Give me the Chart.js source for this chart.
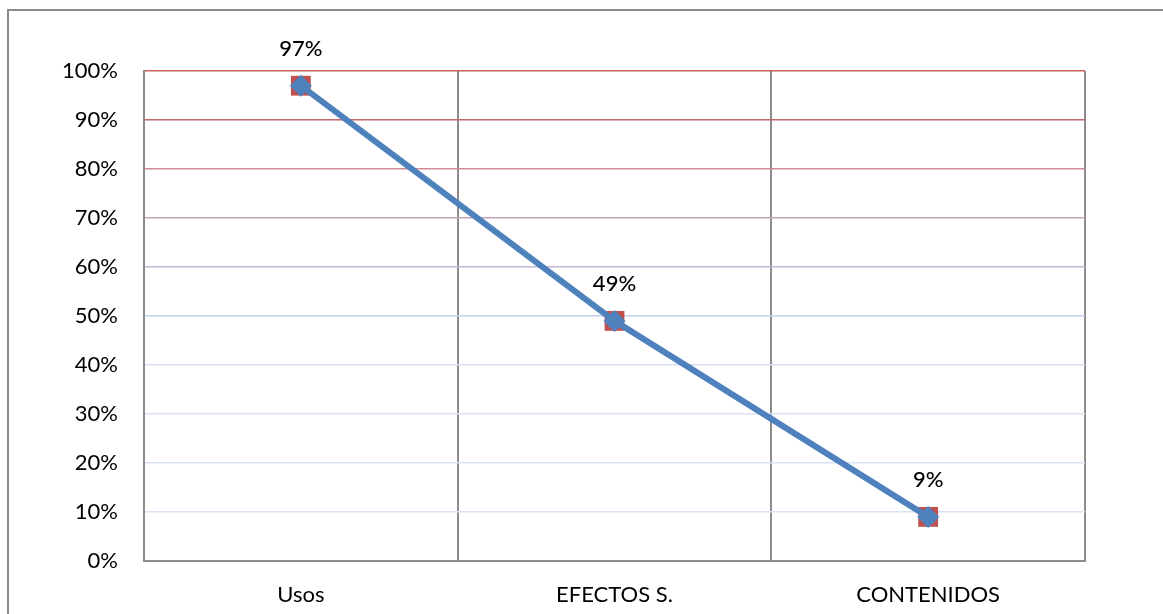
<!DOCTYPE html>
<html>
<head>
<meta charset="utf-8">
<script src="https://cdn.jsdelivr.net/npm/chart.js@4"></script>
<style>
  body { margin: 0; background: #fff; }
  #wrap { position: relative; width: 1163px; height: 614px; overflow: hidden; }
  #frame { position: absolute; left: 7px; top: 9px; width: 1200px; height: 700px; border: 2px solid #8c8c8c; }
  #chart { position: absolute; left: 0; top: 0; }
</style>
</head>
<body>
<div id="wrap">
  <div id="frame"></div>
  <canvas id="chart" width="1163" height="614"></canvas>
</div>
<script>
const categories = ['Usos', 'EFECTOS S.', 'CONTENIDOS'];
const values = [97, 49, 9];
const yTicks = [0, 10, 20, 30, 40, 50, 60, 70, 80, 90, 100];
// gridline colour per tick, fading from red at the top to pale blue
const gridColors = {
    0: '#8c8c8c', 10: '#d9e2f3', 20: '#d9e2f3', 30: '#d9e2f3', 40: '#d6dff2',
    50: '#c3d0ec', 60: '#bfbbd6', 70: '#c5a5b4', 80: '#cd8c95', 90: '#c4666a', 100: '#cf5f5f'
};

const FONT = 'Lato, "Open Sans", sans-serif';

// writes the percentage above every point of the line
const valueLabels = {
    id: 'valueLabels',
    afterDatasetsDraw(chart) {
        const meta = chart.getDatasetMeta(0);
        const ctx = chart.ctx;
        ctx.save();
        ctx.font = '500 22px ' + FONT;
        ctx.fillStyle = '#000';
        ctx.textAlign = 'center';
        ctx.textBaseline = 'middle';
        meta.data.forEach((pt, i) => {
            ctx.fillText(values[i] + '%', pt.x, pt.y - 37);
        });
        ctx.restore();
    }
};

new Chart(document.getElementById('chart'), {
    type: 'line',
    data: {
        labels: categories,
        datasets: [
            {
                data: values,
                borderColor: '#4f81bd',
                borderWidth: 6,
                backgroundColor: '#4f81bd',
                pointStyle: 'rectRot',
                pointRadius: 11,
                pointBorderWidth: 0,
                order: 0
            },
            {
                data: values,
                showLine: false,
                pointStyle: 'rect',
                pointRadius: 14,
                backgroundColor: '#c0504d',
                borderColor: '#c0504d',
                pointBorderWidth: 0,
                order: 1
            }
        ]
    },
    options: {
        responsive: false,
        animation: false,
        layout: { padding: { top: 71, right: 78, left: 0, bottom: 0 } },
        plugins: {
            legend: { display: false },
            tooltip: { enabled: false }
        },
        scales: {
            x: {
                offset: true,
                grid: { offset: true, color: '#8c8c8c', lineWidth: 2, drawTicks: false },
                border: { color: '#8c8c8c', width: 2 },
                ticks: { color: '#000', font: { family: FONT, size: 22 }, padding: 21 },
                afterFit(scale) { scale.height = 53; }
            },
            y: {
                min: 0,
                max: 100,
                afterBuildTicks(scale) { scale.ticks = yTicks.map(v => ({ value: v })); },
                grid: {
                    drawTicks: false,
                    lineWidth: 1.5,
                    color: c => gridColors[c.tick.value] || '#d9e2f3'
                },
                border: { color: '#8c8c8c', width: 2 },
                ticks: {
                    color: '#000',
                    font: { family: FONT, size: 22 },
                    padding: 26,
                    callback: v => v + '%'
                },
                afterFit(scale) { scale.width = 144; }
            }
        }
    },
    plugins: [valueLabels]
});
</script>
</body>
</html>
